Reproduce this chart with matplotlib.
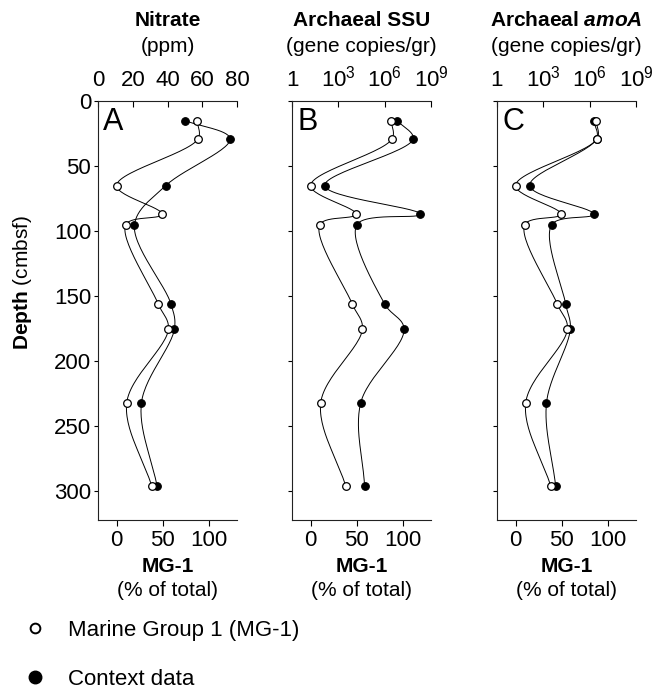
import numpy as np
import matplotlib
matplotlib.use("Agg")
import matplotlib.pyplot as plt
from matplotlib.lines import Line2D

plt.rcParams["font.family"] = ["Liberation Sans", "DejaVu Sans"]
plt.rcParams["mathtext.fontset"] = "custom"
plt.rcParams["mathtext.rm"] = "Liberation Sans"
plt.rcParams["mathtext.it"] = "Liberation Sans:italic"
plt.rcParams["mathtext.bf"] = "Liberation Sans:bold"
plt.rcParams["mathtext.bfit"] = "Liberation Sans:italic:bold"

# Data
depth = [15, 29, 65, 87, 95, 156, 175, 232, 296]           # cmbsf
mg1 = [87, 88, 0, 49, 10, 45, 56, 11, 38]                   # % of total

nitrate_depth = [15, 29, 65, 95, 156, 175, 232, 296]
nitrate = [50, 76, 39, 21, 42, 44, 25, 34]                  # ppm

ssu = [6.3e6, 7.1e7, 1.3e2, 2.0e8, 1.6e4, 1.0e6, 1.8e7, 2.8e4, 5.0e4]
amoa = [1.8e6, 2.8e6, 1.3e2, 1.8e6, 3.5e3, 2.8e4, 5.6e4, 1.6e3, 6.3e3]

titles = ["Nitrate", "Archaeal SSU", r"Archaeal $\mathbfit{amoA}$"]
units = ["(ppm)", "(gene copies/gr)", "(gene copies/gr)"]
letters = ["A", "B", "C"]


def smooth(ax, xs, ys, n=30):
    # centripetal Catmull-Rom through the points, in screen space
    pts = ax.transData.transform(np.column_stack([xs, ys]))
    p = np.vstack([2 * pts[0] - pts[1], pts, 2 * pts[-1] - pts[-2]])
    out = []
    for i in range(1, len(p) - 2):
        p0, p1, p2, p3 = p[i - 1], p[i], p[i + 1], p[i + 2]
        t0 = 0.0
        t1 = t0 + np.linalg.norm(p1 - p0) ** 0.5 + 1e-6
        t2 = t1 + np.linalg.norm(p2 - p1) ** 0.5 + 1e-6
        t3 = t2 + np.linalg.norm(p3 - p2) ** 0.5 + 1e-6
        t = np.linspace(t1, t2, n)[:, None]
        a1 = (t1 - t) / (t1 - t0) * p0 + (t - t0) / (t1 - t0) * p1
        a2 = (t2 - t) / (t2 - t1) * p1 + (t - t1) / (t2 - t1) * p2
        a3 = (t3 - t) / (t3 - t2) * p2 + (t - t2) / (t3 - t2) * p3
        b1 = (t2 - t) / (t2 - t0) * a1 + (t - t0) / (t2 - t0) * a2
        b2 = (t3 - t) / (t3 - t1) * a2 + (t - t1) / (t3 - t1) * a3
        c = (t2 - t) / (t2 - t1) * b1 + (t - t1) / (t2 - t1) * b2
        out.append(c)
    curve = ax.transData.inverted().transform(np.vstack(out))
    return curve[:, 0], curve[:, 1]


W, H = 666, 690
fig = plt.figure(figsize=(W / 100, H / 100), dpi=100)

lefts = [98, 292, 497]
ax_w, ax_top, ax_bot = 139, 101, 520
spine_col = "#222222"

context = [(nitrate_depth, nitrate), (depth, ssu), (depth, amoa)]

for i, left in enumerate(lefts):
    ax = fig.add_axes([left / W, 1 - ax_bot / H, ax_w / W, (ax_bot - ax_top) / H])
    ax.set_xlim(-20, 130)
    ax.set_ylim(322, 0)
    top = ax.twiny()
    if i == 0:
        top.set_xlim(0, 80)
        top.set_xticks([0, 20, 40, 60, 80])
    else:
        top.set_xscale("log")
        top.set_xlim(1, 1e9)
        top.set_xticks([1, 1e3, 1e6, 1e9])
        top.set_xticklabels(["1", "$10^3$", "$10^6$", "$10^9$"])
        top.minorticks_off()

    # context data (filled)
    cd, cv = context[i]
    sx, sy = smooth(top, cv, cd)
    top.plot(sx, sy, color="k", lw=0.7)
    top.plot(cv, cd, "o", mfc="k", mec="k", ms=5.5, mew=0.8)

    # MG-1 (open)
    sx, sy = smooth(ax, mg1, depth)
    ax.plot(sx, sy, color="k", lw=0.7)
    ax.plot(mg1, depth, "o", mfc="white", mec="k", ms=5.5, mew=0.9)

    ax.set_zorder(top.get_zorder() + 1)
    ax.patch.set_visible(False)

    for s in ["top", "right"]:
        ax.spines[s].set_visible(False)
    for s in ["left", "bottom", "right"]:
        top.spines[s].set_visible(False)
    for s in ["left", "bottom"]:
        ax.spines[s].set_color(spine_col)
    top.spines["top"].set_color(spine_col)

    ax.set_xticks([0, 50, 100])
    ax.set_yticks([0, 50, 100, 150, 200, 250, 300])
    ax.tick_params(axis="x", direction="out", length=4, pad=3, labelsize=16)
    ax.tick_params(axis="y", direction="out", length=3, pad=2, labelsize=16,
                   labelleft=(i == 0))
    top.tick_params(axis="x", direction="in", length=4, pad=7, labelsize=16)

    ax.text(0.036, 0.931, letters[i], transform=ax.transAxes, fontsize=22,
            va="baseline", ha="left")

    cx = (left + ax_w / 2) / W
    fig.text(cx, 1 - 21 / H, titles[i], ha="center", va="center",
             fontsize=15, fontweight="bold")
    fig.text(cx, 1 - 47 / H, units[i], ha="center", va="center", fontsize=15)
    fig.text(cx, 1 - 566 / H, "MG-1", ha="center", va="center",
             fontsize=15, fontweight="bold")
    fig.text(cx, 1 - 590 / H, "(% of total)", ha="center", va="center",
             fontsize=15)

fig.text(22 / W, 1 - 282 / H, r"$\mathbf{Depth}$ (cmbsf)", rotation=90,
         ha="center", va="center", fontsize=15)

handles = [
    Line2D([], [], ls="none", marker="o", mfc="white", mec="k", ms=7, mew=1.4),
    Line2D([], [], ls="none", marker="o", mfc="k", mec="k", ms=9),
]
fig.legend(handles, ["Marine Group 1 (MG-1)", "Context data"],
           loc="upper left", bbox_to_anchor=(24 / W, 1 - 620 / H),
           frameon=False, fontsize=16, handlelength=1.0, handletextpad=1.0,
           labelspacing=1.25, borderpad=0, borderaxespad=0)

fig.savefig("out.png", dpi=100)
